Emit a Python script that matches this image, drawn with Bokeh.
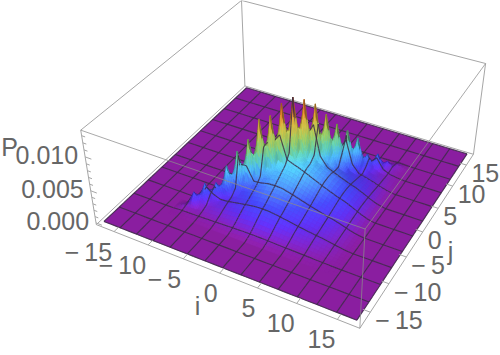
import numpy as np
from collections import defaultdict
from bokeh.plotting import figure
from bokeh.models import Range1d
from bokeh.core.properties import value
from bokeh.embed import file_html
from bokeh.resources import INLINE

# ---- values (P in units of 1e-5) ----
RIDGE_K = [-10, -9, -8, -7, -6, -5, -4, -3, -2, -1, 0, 1, 2, 3, 4, 5, 6, 7, 8, 9, 10]
RIDGE_P = [30, 200, 300, 280, 510, 700, 850, 1120, 1140, 1290, 1350, 1290, 1200, 1020, 850, 730, 580, 300, 270, 120, 40]
BEHIND_P = [0, 20, 40, 50, 80, 110, 150, 190, 210, 240, 250, 240, 210, 170, 130, 100, 70, 40, 30, 10, 0]
FRONT_P = [30, 70, 100, 140, 210, 290, 360, 440, 510, 590, 620, 590, 540, 460, 380, 300, 200, 110, 80, 30, 10]
DOME_ROWS = {
    10: [4],
    9: [19, 6],
    8: [46, 26, 9],
    7: [78, 55, 31, 11],
    6: [112, 94, 68, 38, 14],
    5: [161, 132, 110, 79, 44, 16],
    4: [220, 188, 154, 129, 92, 51, 19],
    3: [294, 252, 214, 176, 148, 105, 59, 21],
    2: [378, 331, 284, 241, 199, 165, 119, 66, 24],
    1: [462, 411, 360, 309, 262, 216, 180, 129, 72, 26],
    0: [515, 472, 420, 368, 315, 268, 220, 184, 131, 74, 26],
    -1: [515, 504, 462, 411, 360, 309, 262, 216, 180, 129, 72, 26],
    -2: [462, 472, 462, 425, 378, 331, 284, 241, 199, 165, 119, 66, 24],
    -3: [378, 411, 420, 411, 378, 336, 294, 252, 214, 176, 148, 105, 59, 21],
    -4: [294, 331, 360, 368, 360, 331, 294, 258, 220, 188, 154, 129, 92, 51, 19],
    -5: [220, 252, 284, 309, 315, 309, 284, 252, 220, 189, 161, 132, 110, 79, 44, 16],
    -6: [161, 188, 214, 241, 262, 268, 262, 241, 214, 188, 161, 136, 112, 94, 68, 38, 14],
    -7: [112, 132, 154, 176, 199, 216, 220, 216, 199, 176, 154, 132, 112, 92, 78, 55, 31, 11],
    -8: [78, 94, 110, 129, 148, 165, 180, 184, 180, 165, 148, 129, 110, 94, 78, 64, 46, 26, 9],
    -9: [46, 55, 68, 79, 92, 105, 119, 129, 131, 129, 119, 105, 92, 79, 68, 55, 46, 32, 19, 6],
    -10: [19, 26, 31, 38, 44, 51, 59, 66, 72, 74, 72, 66, 59, 51, 44, 38, 31, 26, 19, 10, 4],
    -11: [4, 6, 9, 11, 14, 16, 19, 21, 24, 26, 26, 26, 24, 21, 19, 16, 14, 11, 9, 6, 4, 1],
}
IJ_TICKS = [-15, -10, -5, 0, 5, 10, 15]
IJ_LABELS = ["\u2212\u200915", "\u2212\u200910", "\u2212\u20095", "0", "5", "10", "15"]
Z_TICKS = [0.0, 0.005, 0.010]
Z_LABELS = ["0.000", "0.005", "0.010"]
Z_MINOR = [0.001, 0.002, 0.003, 0.004, 0.006, 0.007, 0.008, 0.009, 0.011, 0.012, 0.013]

# ---- styles ----
STOPS = [0, .03, .08, .15, .25, .33, .43, .55, .68, .82, 1]
COLS = np.array([(138, 30, 160), (120, 35, 190), (90, 45, 225), (65, 70, 240), (70, 140, 250), (75, 185, 235),
                 (95, 200, 170), (150, 200, 100), (205, 190, 70), (235, 150, 50), (235, 50, 30)], float)
GREY = "#a6a6a6"
TXT = "#666666"
MESH = "#3c2d46"
FONT = value("Liberation Sans")
FS = "25px"
MESH_I_CELLS = 14
MESH_J_CELLS = 11

EDGE = 17.0
PAD = 17.68
ZMAX = 0.0135
ZB, ZT = -0.02 * ZMAX, 1.02 * ZMAX

# ---- height table ----
N = 2 * int(EDGE) + 1
H = np.zeros((N, N))
def put(i, j, v):
    H[i + 17, j + 17] = v * 1e-5
for j, row in DOME_ROWS.items():
    for n, v in enumerate(row):
        if j + 1 + n <= 17:
            put(j + 1 + n, j, v)
for k, v, b, f in zip(RIDGE_K, RIDGE_P, BEHIND_P, FRONT_P):
    put(k, k, v)
    put(k, k + 1, b)
    put(k + 1, k, f)

def Z(i, j):
    a = np.clip(i + 17, 0, 34)
    b = np.clip(j + 17, 0, 34)
    ia, ib = min(int(a), 33), min(int(b), 33)
    u, w = a - ia, b - ib
    return (H[ia, ib] * (1 - u) * (1 - w) + H[ia + 1, ib] * u * (1 - w)
            + H[ia, ib + 1] * (1 - u) * w + H[ia + 1, ib + 1] * u * w)

# ---- camera, fitted to the box corners seen in the picture ----
WORLD = [(-PAD, -PAD, ZB), (PAD, -PAD, ZB), (PAD, PAD, ZB), (-PAD, -PAD, ZT), (PAD, -PAD, ZT), (PAD, PAD, ZT), (-PAD, PAD, ZT),
         (-EDGE, EDGE, 0.0)]
SCREEN = [(96, 224), (359, 328), (473, 154), (80, 130), (365, 228), (485, 63), (241, 0), (246, 87)]
ZS = 1.0 / 0.0135 * 20
A = []
for (x, y, z), (u, v) in zip(WORLD, SCREEN):
    X = [x, y, z * ZS, 1]
    u, v = u / 250, v / 250
    A.append(X + [0, 0, 0, 0] + [-u * c for c in X])
    A.append([0, 0, 0, 0] + X + [-v * c for c in X])
CAM = np.linalg.svd(np.array(A))[2][-1].reshape(3, 4)

def proj(i, j, z):
    w = CAM @ np.array([i, j, z * ZS, 1.0])
    return 250 * w[0] / w[2], 250 * w[1] / w[2]

def colour(z, shade):
    t = np.clip(z / ZMAX, 0, 1)
    c = [np.interp(t, STOPS, COLS[:, n]) * shade for n in range(3)]
    return "#%02x%02x%02x" % tuple(int(np.clip(v, 0, 255)) for v in c)

L = np.array([0.35, -0.6, 0.7])
L = L / np.linalg.norm(L)
KZ = 13.6 / ZMAX
def shade(dzi, dzj):
    n = np.array([-dzi * KZ, -dzj * KZ, 1.0])
    n /= np.linalg.norm(n)
    return float(np.clip(1 + 0.55 * (n @ L - L[2]), 0.6, 1.25))

# ---- surface quads and mesh, grouped by depth ----
def active(ci, cj):
    ci, cj = int(np.clip(ci, -17, 16)), int(np.clip(cj, -17, 16))
    return H[ci + 17:ci + 19, cj + 17:cj + 19].max() > 0

quads = defaultdict(lambda: ([], [], []))
mesh = defaultdict(lambda: ([], []))
BANDS = 2.0
for ci in range(-17, 17):
    for cj in range(-17, 17):
        if not active(ci, cj):
            continue
        n = 5 if abs(ci - cj) <= 2 else 2
        st = 1.0 / n
        for a in range(n):
            for b in range(n):
                i0, j0 = ci + a * st, cj + b * st
                i1, j1 = i0 + st, j0 + st
                z00, z10, z11, z01 = Z(i0, j0), Z(i1, j0), Z(i1, j1), Z(i0, j1)
                pts = [proj(i0, j0, z00), proj(i1, j0, z10), proj(i1, j1, z11), proj(i0, j1, z01)]
                zm = (z00 + z10 + z11 + z01) / 4
                s = shade((z10 + z11 - z00 - z01) / (2 * st), (z01 + z11 - z00 - z10) / (2 * st))
                key = int(np.floor(((i0 + i1) / 2 - (j0 + j1) / 2) * BANDS))
                q = quads[key]
                q[0].append([p[0] for p in pts])
                q[1].append([p[1] for p in pts])
                q[2].append(colour(zm, s))

def add_line(fix_i, m):
    fm = int(np.floor(m))
    for c in range(-17, 17):
        if fix_i:
            on = active(fm, c) or active(fm - 1, c)
        else:
            on = active(c, fm) or active(c, fm - 1)
        n = 4 if on else 1
        for a in range(n):
            t0, t1 = c + a / n, c + (a + 1) / n
            if fix_i:
                p0, p1 = (m, t0), (m, t1)
            else:
                p0, p1 = (t0, m), (t1, m)
            P0 = proj(p0[0], p0[1], Z(*p0))
            P1 = proj(p1[0], p1[1], Z(*p1))
            # drawn one band late so that the next quads do not bite the line
            key = int(np.floor(((p0[0] + p1[0]) / 2 - (p0[1] + p1[1]) / 2) * BANDS)) + 1
            mesh[key][0].append([P0[0], P1[0]])
            mesh[key][1].append([P0[1], P1[1]])

for n in range(0, MESH_I_CELLS + 1):
    add_line(True, -17 + n * 34 / MESH_I_CELLS)
for n in range(0, MESH_J_CELLS + 1):
    add_line(False, -17 + n * 34 / MESH_J_CELLS)

# ---- figure ----
p = figure(width=500, height=355, x_range=Range1d(0, 500), y_range=Range1d(355, 0), x_axis_type=None, y_axis_type=None,
           output_backend="svg", toolbar_location=None, min_border=0, outline_line_color=None,
           background_fill_color="white", styles={"position": "absolute", "left": "0", "top": "0"})
p.grid.visible = False

def seg(a, b, zalpha=1.0, color=GREY, lw=1.0):
    P, Q = proj(*a), proj(*b)
    p.line([P[0], Q[0]], [P[1], Q[1]], line_color=color, line_width=lw, line_alpha=zalpha)

c = {(sx, sy, sz): (sx * PAD, sy * PAD, ZT if sz > 0 else ZB) for sx in (-1, 1) for sy in (-1, 1) for sz in (-1, 1)}
# hidden edges first
seg(c[(-1, 1, -1)], c[(-1, -1, -1)])
seg(c[(-1, 1, -1)], c[(1, 1, -1)])
seg(c[(-1, 1, -1)], c[(-1, 1, 1)])
seg(c[(-1, 1, 1)], c[(-1, -1, 1)])
seg(c[(-1, 1, 1)], c[(1, 1, 1)])
seg(c[(-1, -1, -1)], c[(-1, -1, 1)])
seg(c[(1, 1, -1)], c[(1, 1, 1)])
seg(c[(1, -1, -1)], c[(-1, -1, -1)])
seg(c[(1, -1, -1)], c[(1, 1, -1)])

# floor of the surface
fl = [proj(-EDGE, -EDGE, 0), proj(EDGE, -EDGE, 0), proj(EDGE, EDGE, 0), proj(-EDGE, EDGE, 0)]
p.patches([[q[0] for q in fl]], [[q[1] for q in fl]], fill_color=colour(0, 1.0), line_color=colour(0, 1.0), line_width=0.5)

for key in sorted(set(quads) | set(mesh)):
    if key in quads:
        q = quads[key]
        p.patches(q[0], q[1], fill_color=q[2], line_color=q[2], line_width=0.6)
    if key in mesh:
        m = mesh[key]
        p.multi_line(m[0], m[1], line_color=MESH, line_width=1.15, line_alpha=0.85)

# front edges over the surface
seg(c[(1, -1, -1)], c[(1, -1, 1)], 0.75, "#8c8c8c")
seg(c[(-1, -1, 1)], c[(1, -1, 1)], 0.75, "#8c8c8c")
seg(c[(1, -1, 1)], c[(1, 1, 1)], 0.75, "#8c8c8c")

# ticks and labels
tx, ty = [], []
for t in IJ_TICKS:
    A1, B1 = proj(t, -PAD, ZB), proj(t, -PAD + 0.9, ZB)
    tx.append([A1[0], B1[0]]); ty.append([A1[1], B1[1]])
    A1, B1 = proj(PAD, t, ZB), proj(PAD - 0.9, t, ZB)
    tx.append([A1[0], B1[0]]); ty.append([A1[1], B1[1]])
for t in Z_TICKS:
    A1, B1 = proj(-PAD, -PAD, t), proj(-PAD + 0.9, -PAD, t)
    tx.append([A1[0], B1[0]]); ty.append([A1[1], B1[1]])
for t in Z_MINOR:
    A1, B1 = proj(-PAD, -PAD, t), proj(-PAD + 0.5, -PAD, t)
    tx.append([A1[0], B1[0]]); ty.append([A1[1], B1[1]])
p.multi_line(tx, ty, line_color=GREY, line_width=1)

ip = [proj(t, -PAD, ZB) for t in IJ_TICKS]
p.text([q[0] - 2 for q in ip], [q[1] + 20 for q in ip], text=IJ_LABELS, text_font=FONT, text_font_size=FS,
       text_color=TXT, text_align="right", text_baseline="middle")
jp = [proj(PAD, t, ZB) for t in IJ_TICKS]
p.text([q[0] + 5 for q in jp], [q[1] + 8 for q in jp], text=IJ_LABELS, text_font=FONT, text_font_size=FS,
       text_color=TXT, text_align="left", text_baseline="middle")
zp = [proj(-PAD, -PAD, t) for t in Z_TICKS]
p.text([q[0] - 7 for q in zp], [q[1] - 2 for q in zp], text=Z_LABELS, text_font=FONT, text_font_size=FS,
       text_color=TXT, text_align="right", text_baseline="middle")
p.text([9, 197, 450], [146, 305, 250], text=["P", "i", "j"], text_font=FONT, text_font_size=FS,
       text_color=TXT, text_align="center", text_baseline="middle")

open("out.html", "w").write(file_html(p, INLINE))
